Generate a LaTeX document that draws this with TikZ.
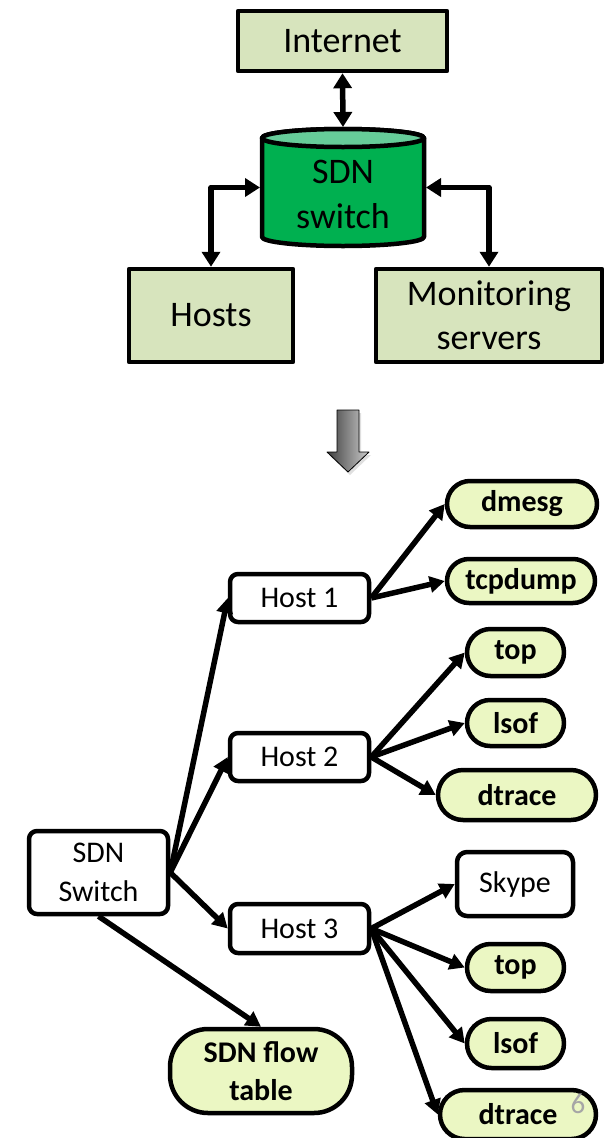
\documentclass[tikz,border=0pt]{standalone}
\usepackage{fontspec}
\setmainfont{Carlito}
\usetikzlibrary{arrows.meta,shapes.misc,shadows}
\definecolor{topfill}{HTML}{D7E4BD}
\definecolor{toolfill}{HTML}{EBF7C3}
\definecolor{cylbody}{HTML}{00B050}
\definecolor{cyltop}{HTML}{66CC99}
\definecolor{pagenum}{HTML}{A6A6A6}
\tikzset{
  topbox/.style={draw, line width=4.5pt, fill=topfill, inner sep=0pt, align=center,
    font=\fontsize{36}{44}\selectfont},
  hostbox/.style={draw, line width=4.5pt, rounded corners=8pt, fill=white, inner sep=0pt,
    align=center, minimum width=139pt, minimum height=48pt, font=\fontsize{30}{39}\selectfont},
  toolbox/.style={draw, line width=4.5pt, rounded rectangle, fill=toolfill, inner sep=0pt,
    align=center, font=\fontsize{30}{38}\selectfont\bfseries},
  link/.style={line width=5.5pt, -{Triangle[length=15pt,width=16pt]}},
  biglink/.style={line width=5.5pt, {Triangle[length=15pt,width=18pt]}-{Triangle[length=15pt,width=18pt]}},
}
\begin{document}
\begin{tikzpicture}[x=1pt,y=1pt,line join=round]
\useasboundingbox[fill=white] (0,0) rectangle (608,-1138);

% ---- overview: internet, switch, hosts, monitoring ----
\node[topbox, minimum width=209pt, minimum height=60pt] (internet) at (342.5,-41) {Internet};
\node[topbox, minimum width=164pt, minimum height=93pt] (hosts) at (211,-315.5) {Hosts};
\node[topbox, minimum width=226pt, minimum height=93pt] (mon) at (489,-315.5) {Monitoring\\servers};

% switch drawn as a cylinder
\draw[line width=4.5pt, fill=cylbody] (262,-138) -- (262,-237)
  arc[start angle=180, end angle=360, x radius=81pt, y radius=9pt] -- (424,-138)
  arc[start angle=0, end angle=180, x radius=81pt, y radius=9pt] -- cycle;
\draw[line width=4.5pt, fill=cyltop] (343,-138) ellipse[x radius=81pt, y radius=9pt];
\node[minimum width=166pt, minimum height=121pt, inner sep=0pt, outer sep=0pt] (sw) at (343,-187.5) {};
\node[align=center, font=\fontsize{36}{45}\selectfont] (swlabel) at (343,-194) {SDN\\switch};

\draw[biglink] (internet.south) -- (sw.north);
\draw[biglink] (sw.west) -| (hosts.north);
\draw[biglink] (sw.east) -| (mon.north);

% ---- transition arrow ----
\path[draw=black, line width=0.8pt, left color=black!75, right color=black!20,
  drop shadow={shadow xshift=2pt, shadow yshift=-3pt, opacity=0.25}]
  (337,-410) -- (359,-410) -- (359,-452) -- (369,-452) -- (348,-472)
  -- (327,-452) -- (337,-452) -- cycle;

% ---- detail tree ----
\node[hostbox, minimum height=83pt] (sdn) at (98.5,-872.5) {SDN\\Switch};
\node[hostbox] (host1) at (299.5,-598) {Host 1};
\node[hostbox] (host2) at (299.5,-757) {Host 2};
\node[hostbox, minimum height=49pt] (host3) at (299.5,-928.5) {Host 3};

\node[toolbox, minimum width=150pt, minimum height=46pt] (dmesg) at (522,-504) {dmesg};
\node[toolbox, minimum width=148pt, minimum height=44pt] (tcpdump) at (521,-581) {tcpdump};
\node[toolbox, minimum width=97pt, minimum height=47pt] (topA) at (515.5,-652.5) {top};
\node[toolbox, minimum width=97pt, minimum height=46pt] (lsofA) at (515.5,-723) {lsof};
\node[toolbox, minimum width=158pt, minimum height=50pt] (dtraceA) at (517,-795) {dtrace};
\node[hostbox, rounded corners=10pt, minimum width=116pt, minimum height=64pt] (skype) at (515,-884) {Skype};
\node[toolbox, minimum width=97pt, minimum height=47pt] (topB) at (515.5,-967.5) {top};
\node[toolbox, minimum width=97pt, minimum height=49pt] (lsofB) at (515.5,-1043.5) {lsof};
\node[toolbox, minimum width=156pt, minimum height=49pt] (dtraceB) at (518,-1114.5) {dtrace};
\node[draw, line width=4.5pt, fill=toolfill, rounded corners=38pt, inner sep=0pt, align=center,
  minimum width=182pt, minimum height=84pt, font=\fontsize{30}{38}\selectfont\bfseries]
  (flow) at (261,-1071) {SDN flow\\table};

\draw[link] (sdn.east) -- (host1.west);
\draw[link] (sdn.east) -- (host2.west);
\draw[link] (sdn.east) -- (host3.west);
\draw[link] (sdn.south) -- (flow.north);

\draw[link] (host1.east) -- (dmesg.west);
\draw[link] (host1.east) -- (tcpdump.west);

\draw[link] (host2.east) -- (topA.west);
\draw[link] (host2.east) -- (lsofA.west);
\draw[link] (host2.east) -- (dtraceA.west);

\draw[link] (host3.east) -- (skype.west);
\draw[link] (host3.east) -- (topB.west);
\draw[link] (host3.east) -- (lsofB.west);
\draw[link] (host3.east) -- (dtraceB.west);

% slide number
\node[text=pagenum, font=\fontsize{29}{29}\selectfont] (pnum) at (578,-1104) {6};
\end{tikzpicture}
\end{document}
